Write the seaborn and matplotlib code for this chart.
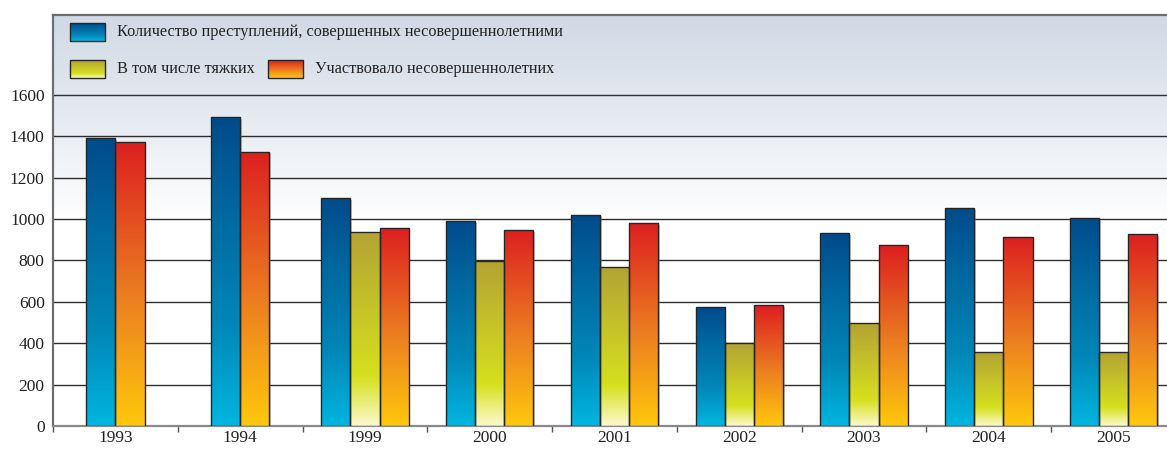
import numpy as np
import pandas as pd
import seaborn as sns
import matplotlib.pyplot as plt
from matplotlib.colors import LinearSegmentedColormap
from matplotlib.patches import Rectangle

# datos
years = ['1993', '1994', '1999', '2000', '2001', '2002', '2003', '2004', '2005']
crimes = [1390, 1490, 1100, 990, 1020, 575, 932, 1053, 1005]
grave = [np.nan, np.nan, 937, 797, 768, 400, 497, 357, 357]
minors = [1372, 1325, 957, 947, 981, 584, 874, 913, 927]

series = ['Количество преступлений, совершенных несовершеннолетними',
          'В том числе тяжких',
          'Участвовало несовершеннолетних']
y_ticks = [0, 200, 400, 600, 800, 1000, 1200, 1400, 1600]

df = pd.DataFrame({
    'year': years * 3,
    'series': [series[0]] * 9 + [series[1]] * 9 + [series[2]] * 9,
    'value': crimes + grave + minors,
})

# degradados (de abajo hacia arriba)
cmaps = [
    LinearSegmentedColormap.from_list('blue', ['#00b6e0', '#0086b8', '#006aa2', '#004b8a']),
    LinearSegmentedColormap.from_list('yel', [(0, '#fdf9cf'), (0.25, '#d6e01e'), (1, '#b3a334')]),
    LinearSegmentedColormap.from_list('red', [(0, '#ffc80c'), (0.45, '#ec7f20'), (1, '#dc1f20')]),
]
grad = np.linspace(0, 1, 256).reshape(-1, 1)

plt.rcParams['font.family'] = ['Liberation Serif', 'DejaVu Serif']
fig = plt.figure(figsize=(11.67, 4.49), dpi=100)
ax = fig.add_axes([53 / 1167, 23 / 449, 1123 / 1167, 411 / 449])

sns.barplot(data=df, x='year', y='value', hue='series', hue_order=series,
            order=years, width=0.7, gap=0, dodge=True, legend=False,
            palette=['#0070a8', '#c8c830', '#e86020'], ax=ax, zorder=3)

# donde no hay "tяжких", se centran las dos barras
for k, cont in enumerate(ax.containers):
    for p in cont.patches:
        idx = int(round(p.get_x() + p.get_width() / 2))
        if np.isnan(grave[idx]):
            if k == 0:
                p.set_x(p.get_x() + p.get_width() / 2)
            elif k == 2:
                p.set_x(p.get_x() - p.get_width() / 2)

# relleno con degradado y sombra
for k, cont in enumerate(ax.containers):
    for p in cont.patches:
        h = p.get_height()
        if not np.isfinite(h) or h <= 0:
            continue
        x, w = p.get_x(), p.get_width()
        ax.add_patch(Rectangle((x + 0.014, 0), w, h - 8, color='#7f7f7f',
                               alpha=0.45, lw=0, zorder=2.4))
        im = ax.imshow(grad, cmap=cmaps[k], origin='lower', aspect='auto',
                       extent=[x, x + w, 0, h], zorder=2.6)
        im.set_clip_path(p)
        p.set_facecolor('none')
        p.set_edgecolor('#262626')
        p.set_linewidth(1.0)
        p.set_zorder(3)

# fondo con degradado
bg = LinearSegmentedColormap.from_list('bg', [(0, '#ffffff'), (0.5, '#ffffff'),
                                              (0.75, '#e6ebf2'), (1, '#d0d9e5')])
ax.imshow(grad, cmap=bg, origin='lower', aspect='auto', extent=[0, 1, 0, 1],
          transform=ax.transAxes, zorder=0)

ax.set_xlim(-0.5, 8.5)
ax.set_ylim(0, 1985)
ax.set_yticks(y_ticks)
ax.set_xlabel('')
ax.set_ylabel('')
ax.yaxis.grid(True, color='#2e2e2e', lw=1.0, zorder=1)
ax.set_axisbelow(True)
ax.tick_params(axis='y', length=0, pad=6, labelsize=12.5, colors='#222222')
ax.tick_params(axis='x', which='major', length=0, pad=3, labelsize=12.5, colors='#222222')
ax.set_xticks(np.arange(-0.5, 9, 1), minor=True)
ax.tick_params(axis='x', which='minor', length=4, color='#555555', width=1)

for s in ['top', 'left']:
    ax.spines[s].set_color('#6e6e6e')
    ax.spines[s].set_linewidth(1.6)
ax.spines['bottom'].set_color('#8a8a8a')
ax.spines['bottom'].set_linewidth(1.6)
ax.spines['right'].set_visible(False)

# leyenda hecha a mano con degradados
leg = [(0.0151, 0.937, 0), (0.0151, 0.847, 1), (0.1915, 0.847, 2)]
pw, ph = 35 / 1123, 18 / 411
for lx, ly, k in leg:
    im = ax.imshow(grad, cmap=cmaps[k], origin='lower', aspect='auto',
                   extent=[lx, lx + pw, ly, ly + ph], transform=ax.transAxes, zorder=4)
    ax.add_patch(Rectangle((lx, ly), pw, ph, transform=ax.transAxes, fill=False,
                           ec='#262626', lw=1.0, zorder=5))
    ax.text(lx + pw + 12 / 1123, ly + ph / 2, series[k], transform=ax.transAxes,
            fontsize=11.7, va='center', ha='left', color='#222222', zorder=5)

ax.set_xlim(-0.5, 8.5)
ax.set_ylim(0, 1985)
fig.savefig('out.png', dpi=100)
